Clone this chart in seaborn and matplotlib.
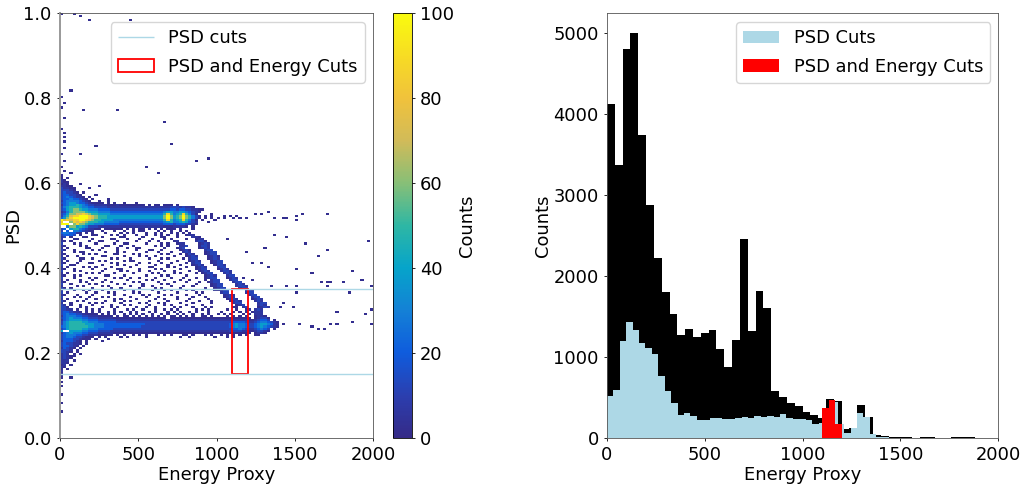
import matplotlib

matplotlib.use("Agg")
import matplotlib.pyplot as plt
import numpy as np
import pandas as pd
import seaborn as sns
from matplotlib.colors import LinearSegmentedColormap
from matplotlib.patches import Rectangle

# right panel: counts
all_counts = [4122, 3368, 4800, 5000, 3740, 2875, 2220, 1808, 1528, 1272, 1342, 1252, 1300, 1334, 1095, 873, 1206,
              2454, 1318, 1816, 1610, 576, 510, 428, 395, 317, 280, 243, 482, 457, 111, 124, 408, 255, 41, 25, 16,
              8, 8, 4, 8, 14, 3, 5, 8, 8, 8, 3, 5, 3]
psd_counts = [519, 597, 1194, 1429, 1338, 1174, 1112, 1034, 770, 576, 428, 284, 305, 268, 226, 226, 243, 243, 235,
              230, 247, 264, 247, 276, 264, 276, 264, 296, 251, 239, 230, 222, 173, 181, 350, 440, 173, 66, 124, 309,
              264, 54, 16, 8, 4, 3, 2, 3, 2, 3, 2, 2, 3, 4, 3, 3, 2, 2, 3, 2, 2]
both_counts = [375, 465, 173]
both_edges = [1100, 1133.3, 1166.7, 1200]

# left panel: one string per PSD row (0.005 wide, first row starts at row_top), one char per 20 energy units
psd_rows = [
    "1",
    "1.1",
    "21",
    "211",
    "121...1",
    "2211...... ..1",
    "32211....1",
    "33321",
    "343321.1",
    "3443321... .1",
    "34543221.1",
    "344544321. 1....1",
    "2455554321 ..1..1",
    "3456654432 1111.1.1.. 1...1",
    "2456676543 3222211121 1111111.1. 11.111.1",
    "3567776554 4333322222 2222222222 2222233323 221",
    "3467887665 5544443333 3333333333 3333344344 332211",
    "2357888876 6655554444 4444444444 4445665566 54321",
    "3468899a98 7766665555 5555555555 5557a7567a 7531....1",
    "3579aabbba 9877766666 6666666666 6668b8678b 87531.1.1. ..1.1.1",
    "468abbbbba 9877766666 6666666666 6668b8678b 87531.1.1. 1.1..1.1.1",
    "b9a9aabba9 8776666555 5555555555 5557a7567a 7531.1...1",
    "a..8a9a987 7766555554 4444444444 4445675567 6432...1",
    "bbb.8a8876 6555444443 3333333333 3334443444 3321",
    "..58867653 3322222222 2222222222 2221112222 1.1",
    "34.6775432 211.111111 .1.1.11.1. 1.1.111.1. ..1",
    "3.4.554321 1..1...1.. 1..1.11... .1.1.1..1. 1",
    "4554421.1. 1...1....1 .1.1...1.. 1.1..1.1.1 .1",
    "34443.1... 11....1.1. 1...1..1.. 1.1.1..1.. 122",
    "23.1...11. ...1.....1 1.....1... ..11...1.. ..221",
    "2...11.... 1.....11.. .1...1...1 ...1.1.... 1..122",
    "21.1.....1 ..11....1. ....1...1. .1....12.. ...2331",
    "3...1.1... .1.....1.. 11.....1.. ..1.1..122 ....1232",
    "21....1.1. ....11...1 ...1...... 1.1.1...22 3...1332",
    "2.1.....11 ...1....1. .1..11.... ...1...123 ....1232",
    "31..1..... 1.1.....1. ....1...11 ..1.....12 31....233",
    "2...1.11.. ....1...1. 1......1.. .1...1...2 32....1233",
    "21.....1.1 .1.....11. ...1.1.... ..1.1...1. 132...1233",
    "2.1..1.... ...11..... 1....1.1.. 1.....1... 1232...123 1",
    "31....11.. 1.....1.1. ..1.....1. ..1.1....1 .233...123 2",
    "2.1...1... ..1.1..... 1.11...... .1.....1.. .1232...12 33",
    "21...1...1 1.....1.1. .....1..1. ..1..1.... 1.233...12 33",
    "3..11..... ...1....1. 1...1..... 1...1...1. ..1232...1 332",
    "2.1....1.1 .1....1... ..1.....11 ....1.1... 1..1232... 233",
    "21..1..... 1...1...11 .....1.... 1.1.....1. ...1233... 1232",
    "3...1.1... ...1.....1 .1...1..1. ...1..1... .1..1232.. .2332",
    "2.1.....1. 1.1....1.. ...1.....1 .1....1.1. ...1.1233. ..232",
    "21..1.1... ....11.... 1......1.. ..1.1..... 1.....1232 ...233",
    "3...1....1 .1.....1.1 ..1..1.... 1....1...1 ...1..1233 ...1232",
    "2.1...1... 1...1..... .1.....1.1 ...1....1. .1....1.23 3...233",
    "21....1.1. ...1..1... ...1.1.... .1....1... 1...1..123 3....233",
    "3..1.....1 .1......1. 1.....1... ..1.1..... ...1....12 33....232",
    "2....1.1.. ...1.1.... ..1...1..1 .....1...1 ..1.....12 33....2332",
    "31.1...... 1.....1..1 .....1.... 1.1.....1. ......1..1 233....233",
    "2...1..1.1 ...1...... 1..1.....1 ...1.1.... 1.1......1 1233.....2 32",
    "3.1.....1. .1...1.1.. ...1.1.... .1.....1.. ...1.1.... .233.....2 33",
    "21...1.... 1......1.. 1.....1.1. ...1.1.... 1...1..... ..1232.... 233",
    "3...1.1..1 ...1.1.... ..1....1.. .1.....1.. ..1...1... ..1232.... .233",
    "2.1.....1. .1.....1.1 ....1..... 1..1...1.. .1.....1.. ...1232... .1232",
    "31...1.1.. ....1..1.. 1.1.....1. ....1..... 1...1...1. ....1232.. ..232",
    "2..1.....1 .1.1.....1 .....1.1.. .1.1....1. ..1.....1. .....233.. ...233",
    "32.1..1... 1.....1... 1.1.....1. ...1.1.... 1....1.... ......123. ...232",
    "331...1.1. ...1..1.1. ....1..1.. 1.....1.1. ..1...1.1. .....11.23 ...1232",
    "3322.1..1. 1.1....1.. .1.1..1... 1..1.1.1.. ...1.1.1.. ...1..1..1 2.232",
    "3443221.1. 1.1..1.1.1 ..1.1...1. 1...1.1.1. .1.1...1.. .1...1.1.1 .1222",
    "3454433211 11.1.1.1.. 1.1.1.1..1 ..1.1..1.1 ..1..1.1.. 1.1.1...1. 1.222",
    "2455544332 2211111.1. 11.1.1.1.1 .1.1.11.1. 1.1..11.1. ...1.1.1.1 ..1221",
    "3456555443 3322222111 1111111111 1111.11111 1111111111 1111111111 1.12331",
    "2456666554 4433333322 2222222222 2222222222 2222222222 2222222222 1123443.1",
    "3567777665 5544444433 3333333333 3333333333 3333333333 3333344443 2234554321",
    "3567777766 6555444444 4444444333 3333333333 3333333333 3333456554 3345665421 .1",
    "4567777776 6555444444 4444443333 3333333333 3333333333 3333456554 3345654321",
    "3467777665 5544444333 3333333333 3333333333 3333333333 3333344543 2234543.1",
    "6..6666554 4433332222 2222222222 2222222222 2222222222 2222333322 1123321",
    "2456555443 3322222111 1111111111 1111111111 1111111111 1111111111 1.1221",
    "3455544332 2211111.1. 1..1.1.1.. .1.1.1...1 1.1...1.1. .1.1.1.1.1 ..11",
    "3455433211 1.1.1....1 .1.....1.. ........1. .1.......1 ...1.1",
    "3444332111 .1...1",
    "2444321.1. ...1",
    "3433221.1",
    "344321.1",
    "24321.1",
    "3332.1",
    "3321.1",
    "232.1.1",
    "23211",
    "2321",
    "222.1",
    "221",
    "12.1",
    "21",
    "1.1",
    "2",
    "1",
    "1",
    "1..1",
]
row_top = 0.615
level_counts = [0, 2, 6, 12, 20, 28, 38, 48, 60, 72, 85, 100]

# isolated cells outside the table above
speck_energy = [1529, 1619, 1651, 1685, 1725, 1779, 1870, 1949, 1981, 1995, 1779, 1438, 1416, 1491, 1512, 1842, 1923,
                1995, 1672, 1704, 1736, 1800, 1870, 1704, 1651, 1570, 1519, 1608, 1974, 1348, 1442, 1502, 1704, 1700,
                1555, 1502, 1459, 1438, 1374, 1331, 1289, 1246, 1512, 1374, 1459, 1310, 1299, 1320, 1235, 1193, 1172,
                1225, 1071, 85, 128, 196, 454, 75, 10, 23, 10, 153, 362, 21, 677, 10, 21, 21, 232, 718, 21, 21, 138,
                10, 873, 952, 21, 547, 10, 21, 60, 628, 5, 5, 5, 5, 5, 5]
speck_psd = [.268, .264, .259, .257, .268, .268, .273, .291, .266, .300, .295, .319, .305, .305, .340, .340, .372,
             .356, .366, .366, .366, .366, .394, .444, .425, .455, .395, .386, .464, .356, .355, .355, .355, .525,
             .526, .521, .515, .517, .515, .531, .529, .529, .511, .478, .471, .446, .415, .403, .415, .439, .376,
             .372, .466, .999, .994, .984, .984, .817, .801, .787, .777, .774, .771, .751, .744, .729, .719, .709,
             .688, .693, .699, .683, .666, .666, .654, .657, .652, .639, .635, .628, .624, .620, .13, .12, .10, .08,
             .06, .995]

psd_cut_levels = [0.15, 0.35]
energy_cut = [1100, 1200]
parula_like = ["#352a87", "#2b3fb0", "#0f5cdd", "#1481d6", "#06a4ca", "#2eb7a4", "#87bf77", "#d1bb59", "#f0c23c",
               "#f7dc24", "#f9fb0e"]

plt.rcParams["font.size"] = 12.9
plt.rcParams["axes.linewidth"] = 0.6
plt.rcParams["xtick.major.size"] = 2.4
plt.rcParams["ytick.major.size"] = 2.4
plt.rcParams["xtick.major.width"] = 0.6
plt.rcParams["ytick.major.width"] = 0.6

W, H = 1022, 486


def px_axes(fig, x0, x1, y0, y1):
    return fig.add_axes([x0 / W, 1 - y1 / H, (x1 - x0) / W, (y1 - y0) / H])


fig = plt.figure(figsize=(W / 100, H / 100), dpi=100)
ax_map = px_axes(fig, 60, 373, 13, 438)
ax_bar = px_axes(fig, 393, 412, 13, 438)
ax_hist = px_axes(fig, 607, 998, 13, 438)

cells = []
for i, row in enumerate(psd_rows):
    for j, ch in enumerate(row.replace(" ", "")):
        if ch != ".":
            cells.append((20 * j + 10, row_top - 0.005 * i + 0.0025, level_counts[".123456789ab".index(ch)]))
for e, p in zip(speck_energy, speck_psd):
    cells.append((e, p, 2))
map_df = pd.DataFrame(cells, columns=["energy", "psd", "counts"])

cmap = LinearSegmentedColormap.from_list("parula_like", parula_like)
sns.histplot(
    data=map_df, x="energy", y="psd", weights="counts",
    bins=[np.linspace(0, 2000, 101), np.linspace(0, 1, 201)],
    cmap=cmap, vmin=0, vmax=100, cbar=True, cbar_ax=ax_bar, ax=ax_map,
)
ax_map.hlines(psd_cut_levels, 0, 2000, color="lightblue", linewidth=1.0, label="PSD cuts")
ax_map.add_patch(Rectangle((energy_cut[0], psd_cut_levels[0]), energy_cut[1] - energy_cut[0],
                           psd_cut_levels[1] - psd_cut_levels[0], fill=False, edgecolor="red", linewidth=1.3,
                           label="PSD and Energy Cuts"))
ax_map.set_xlim(0, 2000)
ax_map.set_ylim(0, 1)
ax_map.set_xticks([0, 500, 1000, 1500, 2000])
ax_map.set_yticks(np.arange(0, 1.01, 0.2))
ax_map.set_xlabel("Energy Proxy", labelpad=1)
ax_map.set_ylabel("PSD", labelpad=1)
ax_map.legend(loc="upper right", fontsize=12.9, bbox_to_anchor=(0.974, 0.979), borderaxespad=0, labelspacing=0.6)
ax_map.spines["left"].set_color("#999999")
ax_map.spines["left"].set_linewidth(1.4)
for side in ["top", "right", "bottom"]:
    ax_map.spines[side].set_color("#555555")

ax_bar.set_yticks(np.arange(0, 101, 20))
ax_bar.set_ylabel("Counts", labelpad=3)

all_edges = np.linspace(0, 2000, len(all_counts) + 1)
psd_edges = np.linspace(0, 2000, len(psd_counts) + 1)
sns.histplot(x=(all_edges[:-1] + all_edges[1:]) / 2, weights=all_counts, bins=list(all_edges), element="step",
             color="black", alpha=1, linewidth=0, ax=ax_hist)
sns.histplot(x=(psd_edges[:-1] + psd_edges[1:]) / 2, weights=psd_counts, bins=list(psd_edges), element="step",
             color="lightblue", alpha=1, linewidth=0, label="PSD Cuts", ax=ax_hist)
both_centres = [(a + b) / 2 for a, b in zip(both_edges[:-1], both_edges[1:])]
sns.histplot(x=both_centres, weights=both_counts, bins=both_edges, element="step", color="red", alpha=1, linewidth=0,
             label="PSD and Energy Cuts", ax=ax_hist)
ax_hist.set_xlim(0, 2000)
ax_hist.set_ylim(0, 5247)
ax_hist.set_xticks([0, 500, 1000, 1500, 2000])
ax_hist.set_yticks(np.arange(0, 5001, 1000))
ax_hist.set_xlabel("Energy Proxy", labelpad=1)
ax_hist.set_ylabel("Counts", labelpad=1)
ax_hist.legend(loc="upper right", fontsize=12.9, bbox_to_anchor=(0.98, 0.979), borderaxespad=0, labelspacing=0.6)
for spine in ax_hist.spines.values():
    spine.set_color("#555555")

fig.savefig("out.png", dpi=100)
